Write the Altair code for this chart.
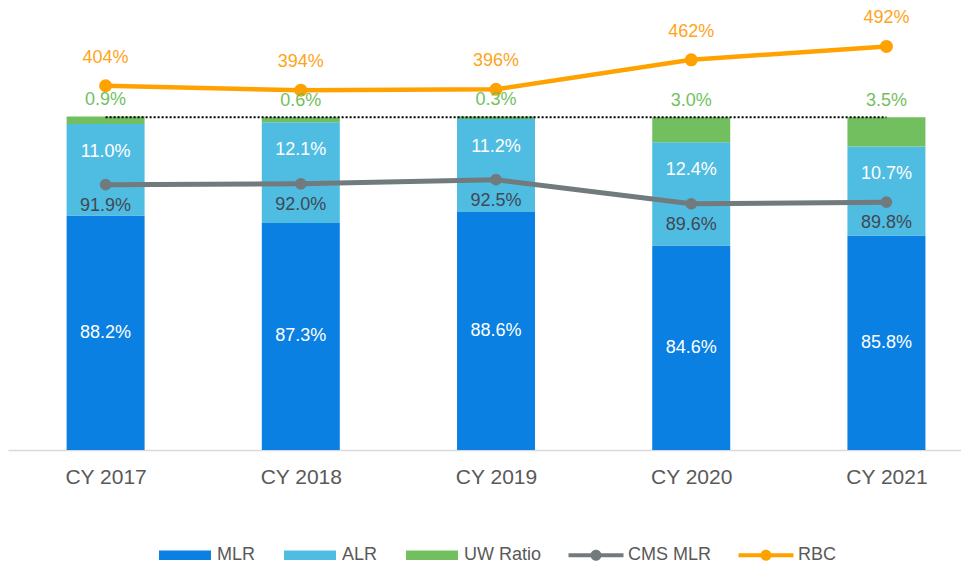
import altair as alt
import pandas as pd

# ---- data ----
years = ["CY 2017", "CY 2018", "CY 2019", "CY 2020", "CY 2021"]
mlr = [88.2, 87.3, 88.6, 84.6, 85.8]
alr = [11.0, 12.1, 11.2, 12.4, 10.7]
uw_ratio = [0.9, 0.6, 0.3, 3.0, 3.5]
cms_mlr = [91.9, 92.0, 92.5, 89.6, 89.8]
rbc = [404, 394, 396, 462, 492]
series_names = ["MLR", "ALR", "UW Ratio", "CMS MLR", "RBC"]
line_series = ["CMS MLR", "RBC"]
series_colors = ["#0A80E2", "#4FBDE1", "#72BF5F", "#717A7D", "#FFA200"]
reference_level = [100, 100, 100, 100, 100]

# ---- styling / layout ----
FONT = "Liberation Sans"
AXIS_MIN = 60
Y1 = alt.Scale(domain=[AXIS_MIN, 113.14], zero=False, nice=False)
Y2 = alt.Scale(domain=[-411, 578], zero=False, nice=False)
XS = alt.Scale(domain=[-0.5, 4.382], zero=False, nice=False, padding=0)

RECT = "M-0.945,-0.171H0.945V0.171H-0.945Z"
LINEDOT = ("M-1,-0.073H1V0.073H-1Z "
           "M0.2,0A0.2,0.2 0 1,1 -0.2,0A0.2,0.2 0 1,1 0.2,0Z")

rows = []
for i, yr in enumerate(years):
    s = 0.0
    for name, vals in (("MLR", mlr), ("ALR", alr), ("UW Ratio", uw_ratio)):
        v = vals[i]
        rows.append(dict(idx=i, year=yr, series=name, value=v, start=s, end=s + v,
                         mid=(max(s, AXIS_MIN) + s + v) / 2,
                         label=f"{v:.1f}%"))
        s += v
bars_df = pd.DataFrame(rows)

lines_df = pd.DataFrame(dict(
    idx=list(range(len(years))), year=years, cms=cms_mlr, rbc=rbc, ref=reference_level,
    cms_label=[f"{v:.1f}%" for v in cms_mlr],
    rbc_label=[f"{v}%" for v in rbc],
))
legend_df = pd.DataFrame(dict(series=series_names))

label_expr = "[" + ",".join(f"'{y}'" for y in years) + "][datum.value]"
X = alt.X(
    "idx:Q", scale=XS,
    axis=alt.Axis(title=None, labelAngle=0, ticks=False, grid=False,
                  values=list(range(len(years))), labelExpr=label_expr,
                  labelFlush=False, labelOverlap=False,
                  domainColor="#D9D9D9", domainWidth=1.5,
                  labelFontSize=21, labelFont=FONT, labelColor="#595959",
                  labelPadding=16),
)
color_scale = alt.Scale(domain=series_names, range=series_colors)

bars = alt.Chart(bars_df).mark_bar(clip=True, size=78).encode(
    x=X,
    y=alt.Y("start:Q", scale=Y1, axis=None),
    y2="end:Q",
    color=alt.Color("series:N", scale=color_scale, legend=None),
)

ref_line = alt.Chart(lines_df).mark_line(
    color="#000000", strokeWidth=2, strokeDash=[2, 2]
).encode(x=X, y=alt.Y("ref:Q", scale=Y1, axis=None))

cms_line = alt.Chart(lines_df).mark_line(
    color="#717A7D", strokeWidth=5
).encode(x=X, y=alt.Y("cms:Q", scale=Y1, axis=None))
cms_pts = alt.Chart(lines_df).mark_circle(
    color="#717A7D", size=135, opacity=1
).encode(x=X, y=alt.Y("cms:Q", scale=Y1, axis=None))

rbc_line = alt.Chart(lines_df).mark_line(
    color="#FFA200", strokeWidth=4.5
).encode(x=X, y=alt.Y("rbc:Q", scale=Y2, axis=None))
rbc_pts = alt.Chart(lines_df).mark_circle(
    color="#FFA200", size=170, opacity=1
).encode(x=X, y=alt.Y("rbc:Q", scale=Y2, axis=None))

txt = dict(font=FONT, fontSize=18, baseline="middle", align="center")

mlr_text = alt.Chart(bars_df[bars_df.series == "MLR"]).mark_text(
    color="#FFFFFF", **txt
).encode(x=X, y=alt.Y("mid:Q", scale=Y1, axis=None), text="label:N")
alr_text = alt.Chart(bars_df[bars_df.series == "ALR"]).mark_text(
    color="#FFFFFF", dy=28, **txt
).encode(x=X, y=alt.Y("end:Q", scale=Y1, axis=None), text="label:N")
uw_text = alt.Chart(bars_df[bars_df.series == "UW Ratio"]).mark_text(
    color="#72BF5F", dy=-16, **txt
).encode(x=X, y=alt.Y("end:Q", scale=Y1, axis=None), text="label:N")
cms_text = alt.Chart(lines_df).mark_text(
    color="#404855", dy=21, **txt
).encode(x=X, y=alt.Y("cms:Q", scale=Y1, axis=None), text="cms_label:N")
rbc_text = alt.Chart(lines_df).mark_text(
    color="#FFA31A", dy=-28, **txt
).encode(x=X, y=alt.Y("rbc:Q", scale=Y2, axis=None), text="rbc_label:N")

line_list = "[" + ",".join(f"'{s}'" for s in line_series) + "]"
shape_expr = f"indexof({line_list}, datum.value) >= 0 ? '{LINEDOT}' : '{RECT}'"
leg = alt.Legend(
    orient="none", legendX=149.5, legendY=519.5, direction="horizontal",
    title=None, symbolSize=3025, symbolOpacity=1, symbolStrokeWidth=0,
    labelFontSize=18, labelFont=FONT, labelColor="#595959",
    labelOffset=4.5, columnPadding=27, padding=0,
    symbolType=alt.ExprRef(expr=shape_expr),
)
legend_layer = alt.Chart(legend_df).transform_filter("false").mark_point(
    filled=True
).encode(
    color=alt.Color("series:N", scale=color_scale, legend=leg),
)

chart = alt.layer(
    bars, ref_line, cms_line, cms_pts, rbc_line, rbc_pts,
    mlr_text, alr_text, uw_text, cms_text, rbc_text, legend_layer,
).resolve_scale(y="independent", color="independent").properties(
    width=953, height=442,
    autosize=alt.AutoSizeParams(type="none"),
    padding={"left": 0, "top": 0, "right": 0, "bottom": 114},
).configure_view(stroke=None)

chart.save("out.html", embed_options={"renderer": "svg", "actions": False})
